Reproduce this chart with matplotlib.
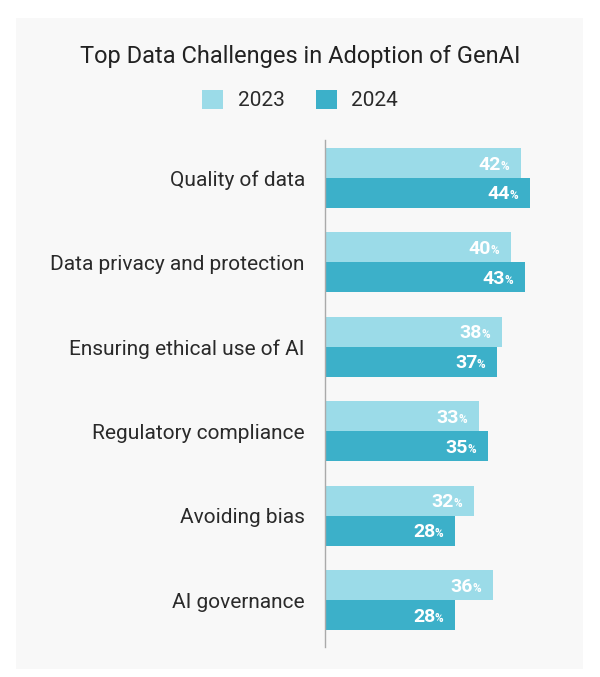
import matplotlib.pyplot as plt
from matplotlib.patches import Rectangle

plt.rcParams['font.family'] = ['Roboto', 'DejaVu Sans']

categories = ["Quality of data", "Data privacy and protection", "Ensuring ethical use of AI",
              "Regulatory compliance", "Avoiding bias", "AI governance"]
vals_2023 = [42, 40, 38, 33, 32, 36]
vals_2024 = [44, 43, 37, 35, 28, 28]
series = ["2023", "2024"]
colors = ["#9bdbe8", "#3cb0c9"]

W, H = 600, 677
fig = plt.figure(figsize=(W / 100, H / 100), dpi=100)
fig.patch.set_facecolor("white")

# light gray card behind everything
fig.patches.append(Rectangle((16 / W, 1 - 669 / H), (583 - 16) / W, (669 - 18) / H,
                             transform=fig.transFigure, facecolor="#f8f8f8",
                             edgecolor="none", zorder=-10))

ax = fig.add_axes([325 / W, 1 - 647 / H, 250 / W, (647 - 140) / H])
ax.set_facecolor("none")

h = 0.355
y = list(range(len(categories)))
b1 = ax.barh([i - h / 2 for i in y], vals_2023, height=h, color=colors[0], label=series[0])
b2 = ax.barh([i + h / 2 for i in y], vals_2024, height=h, color=colors[1], label=series[1])

ax.set_xlim(0, 250 / 4.66)
ax.set_ylim(5.556, -0.45)
ax.set_xticks([])
ax.set_yticks(y)
ax.set_yticklabels(categories, fontsize=15, color="#2a2a2a")
ax.tick_params(axis="y", length=0, pad=14.5)
for s in ["top", "right", "bottom"]:
    ax.spines[s].set_visible(False)
ax.spines["left"].set_color("#aaaaaa")
ax.spines["left"].set_linewidth(1)

# measure the small % sign so the number can sit right before it
renderer = fig.canvas.get_renderer()
tmp = fig.text(0, 0, "%", fontsize=8.5, fontweight="bold")
pct_w = tmp.get_window_extent(renderer).width
tmp.remove()

for bars, vals in [(b1, vals_2023), (b2, vals_2024)]:
    for bar, v in zip(bars, vals):
        yc = bar.get_y() + bar.get_height() / 2
        ax.annotate("%", (v, yc), xytext=(-12, -6.5), textcoords="offset pixels",
                    ha="right", va="baseline", fontsize=8.5, fontweight="bold", color="white")
        ax.annotate(str(v), (v, yc), xytext=(-12 - pct_w + 0.5, -6.5), textcoords="offset pixels",
                    ha="right", va="baseline", fontsize=14, fontweight="bold", color="white")

fig.text(0.5, 1 - 56 / H, "Top Data Challenges in Adoption of GenAI", ha="center", va="center",
         fontsize=17, color="#222222")
fig.legend(handles=[b1, b2], labels=series, loc="center", bbox_to_anchor=(0.5, 1 - 100 / H),
           ncol=2, frameon=False, handlelength=1.0, handleheight=1.05,
           columnspacing=1.5, handletextpad=0.7, labelcolor="#2a2a2a",
           prop={"size": 15})

fig.savefig("out.png", dpi=100)
